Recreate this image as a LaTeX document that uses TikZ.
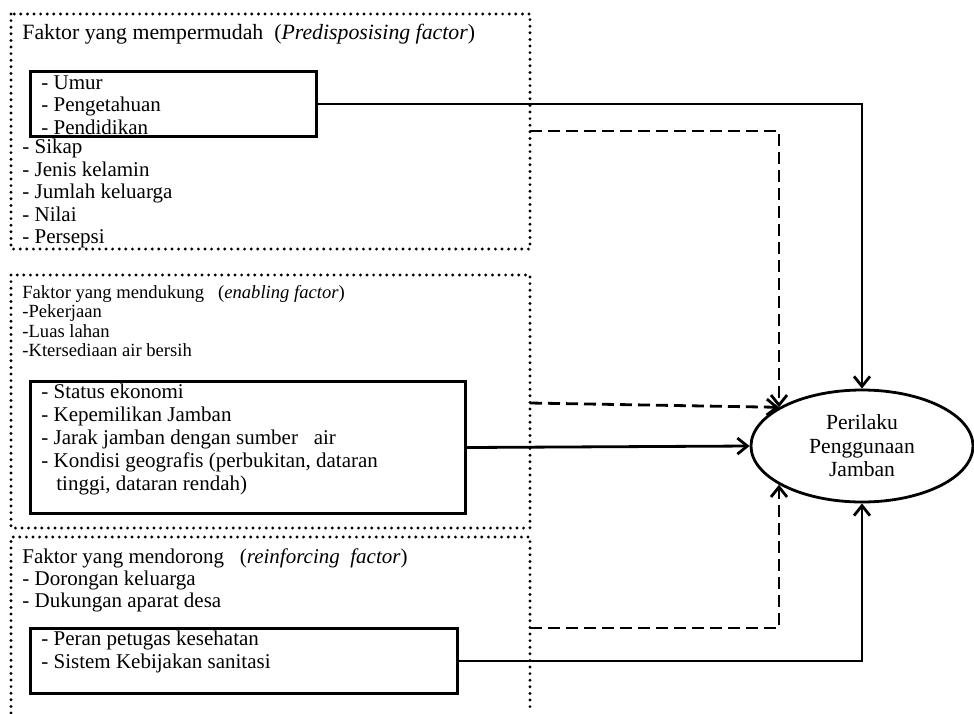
\documentclass[tikz,border=0pt]{standalone}
\usepackage{fontspec}
\setmainfont{Liberation Serif}
\usetikzlibrary{arrows.meta,shapes.geometric}

\begin{document}
\begin{tikzpicture}[x=0.5pt,y=-0.5pt,
  dotbox/.style={line width=1.6pt,dash pattern=on 0pt off 3.3pt,line cap=round},
  solidbox/.style={draw,line width=1.5pt,inner sep=0pt,anchor=north west},
  txt/.style={anchor=north west,inner sep=0pt,align=left,font=\fontsize{10.5}{11.2}\selectfont},
  smalltxt/.style={txt,font=\fontsize{9.3}{9.7}\selectfont},
  link/.style={line width=1.4pt,-{Straight Barb[length=5pt,width=8pt]}},
  dlink/.style={link,dash pattern=on 6pt off 3pt}]
\useasboundingbox (0,0) rectangle (974,713);
\draw[dotbox] (11,14) rectangle (530,249);
\draw[dotbox] (11,275) rectangle (530,528);
\draw[dotbox] (11,713) -- (11,537) -- (530,537) -- (530,713);

\node[txt,font=\fontsize{10.9}{11.2}\selectfont] (predtitle) at (22,24) {Faktor yang mempermudah~~(\textit{Predisposising factor})};
\node[solidbox,minimum width=143pt,minimum height=32.5pt] (pbox) at (29,70) {};
\node[txt,font=\fontsize{10.5}{11.25}\selectfont] (plist) at (41,75) {- Umur\\- Pengetahuan\\- Pendidikan};
\node[txt] (pmore) at (22,139) {- Sikap\\- Jenis kelamin\\- Jumlah keluarga\\- Nilai\\- Persepsi};

\node[smalltxt] (enabtitle) at (22,285) {Faktor yang mendukung~~~(\textit{enabling factor})\\-Pekerjaan\\-Luas lahan\\-Ktersediaan air bersih};
\node[solidbox,minimum width=217.5pt,minimum height=66pt] (ebox) at (29,380) {};
\node[txt,font=\fontsize{10.5}{11.4}\selectfont] (elist) at (41,384) {- Status ekonomi\\- Kepemilikan Jamban\\- Jarak jamban dengan sumber~~~air\\- Kondisi geografis (perbukitan, dataran\\\hspace{7.5pt}tinggi, dataran rendah)};

\node[txt] (reintitle) at (22,548) {Faktor yang mendorong~~~(\textit{reinforcing~~factor})\\- Dorongan keluarga\\- Dukungan aparat desa};
\node[solidbox,minimum width=213.5pt,minimum height=32.5pt] (rbox) at (29,627) {};
\node[txt] (rlist) at (41,631) {- Peran petugas kesehatan\\- Sistem Kebijakan sanitasi};

\node[draw,ellipse,line width=1.4pt,inner sep=0pt,minimum width=111pt,minimum height=56pt,align=center,font=\fontsize{10.8}{11.7}\selectfont] (plj) at (862,446) {Perilaku\\Penggunaan\\Jamban};

\coordinate (pdash) at (530,131);
\coordinate (edash) at (530,403);
\coordinate (rdash) at (530,628);

\draw[link] (pbox.east) -| (plj.north);
\draw[dlink] (pdash) -| (plj.155);
\draw[dlink] (edash) -- (plj.155);
\draw[link] (ebox.east) -- (plj.west);
\draw[dlink] (rdash) -| (plj.205);
\draw[link] (rbox.east) -| (plj.south);
\end{tikzpicture}
\end{document}
